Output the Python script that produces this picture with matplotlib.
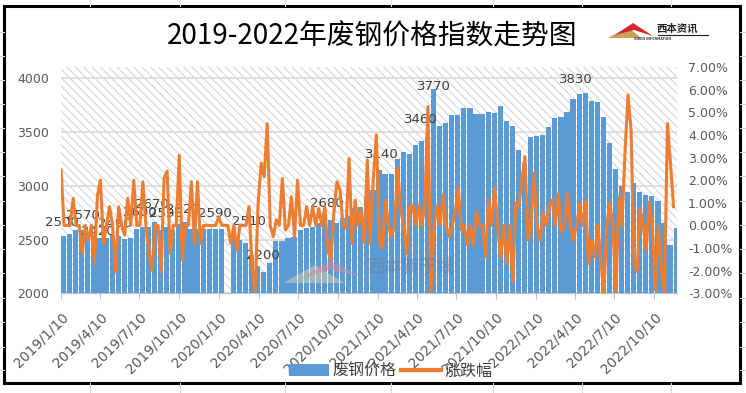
import numpy as np
import pandas as pd
import matplotlib
matplotlib.use('Agg')
from matplotlib import pyplot as plt
from matplotlib.patches import Patch, Polygon, Rectangle
from matplotlib.lines import Line2D
from matplotlib.ticker import FuncFormatter

# scrap steel price index, one bar every two weeks from 2019/1/10 (nan = holiday gap)
start_date = '2019-01-10'
price = [2530, 2555, 2590, 2590, 2540, 2540, 2510, 2510, 2545, 2530,
         2505, 2510, 2595, 2615, 2620, 2660, 2590, 2620, 2590, 2640,
         2660, 2595, 2595, 2595, 2595, 2595, 2595, np.nan, 2530, 2500,
         2470, 2360, 2250, 2200, 2280, 2485, 2490, 2515, 2520, 2590,
         2610, 2615, 2655, 2690, 2680, 2655, 2705, 2720, 2795, 2800,
         2900, 2960, 3150, 3110, 3110, 3250, 3310, 3295, 3375, 3420,
         3450, 3900, 3560, 3580, 3655, 3660, 3725, 3720, 3670, 3670,
         3690, 3680, 3745, 3600, 3560, 3330, 3200, 3450, 3465, 3470,
         3545, 3630, 3640, 3690, 3810, 3850, 3860, 3790, 3780, 3640,
         3400, 3155, 3000, 2940, 3030, 2940, 2910, 2905, 2860, 2650,
         2450, 2610]

# change in percent, one value per week from 2019/1/10
pct = [2.45, 0, 0, 0, 1.2, 0, 0, -1.24, 0, -0.65,
       0, -1.68, 1.3, 2.0, -0.8, 0, 0.83, 0, -2.05, 0.83,
       0, -0.43, 1.2, 0, 2.0, 0, 0, 1.93, 0, -1.17,
       -1.98, 0, 0, -2.05, 2.1, 2.4, -1.24, 0, 0, 3.1,
       -1.53, 0, 0, 1.93, -0.8, 1.93, -0.8, 0, 0, 0,
       0, 0, 0.38, 0, 0, 0, -0.8, 0, -1.1, 0,
       0, 0, 0.83, -1.83, -2.93, 0.97, 2.74, 2.15, 4.5, 0,
       -0.5, 0.24, 0, 2.08, -0.2, 0, 1.27, -0.5, 2.0, 0,
       0, 0.83, 0, 0.83, 0, 0.75, 0, 0.83, -1.1, -1.53,
       0.6, 1.93, 1.56, 0, -0.13, 2.96, -0.8, 1.12, 0, 0.68,
       -0.75, 2.89, -0.8, 2.08, 4.0, -0.65, -1.02, 1.12, 0, -0.5,
       0, 2.52, 0.68, 0, -1.24, 0.83, 0.9, 0, 0.9, 0,
       0.97, 5.25, -3.0, 0, 0.87, 0, 1.34, 0, -0.5, 0,
       0.6, 1.64, -0.2, 0, -0.87, 0, -0.87, 0.6, 0, 0,
       -1.39, 1.12, 0, 1.7, 0, -1.45, 0, -1.7, 0, -2.5,
       1.0, 0.85, 2.0, 3.04, -0.65, 0, 2.3, 0, -0.65, 0.6,
       0, 0.83, 1.12, 0, 1.4, -0.28, 0, 1.4, 0, -0.65,
       0, 0.9, 0, 1.05, -1.68, -0.65, -1.39, 0, -1.53, -3.0,
       0, 1.0, 0, -3.0, 1.27, 0, 3.26, 5.77, 4.2, -1.68,
       -2.05, 0.75, 0, -1.1, 1.05, 0, -2.86, 0, -1.98, -3.0,
       4.5, 2.74, 0.83]

label_dates = ['2019-01-11', '2019-03-02', '2019-04-05', '2019-05-15', '2019-07-11',
               '2019-08-08', '2019-09-09', '2019-10-19', '2019-12-31', '2020-03-19',
               '2020-04-20', '2020-09-15', '2021-01-20', '2021-04-20', '2021-05-20',
               '2022-04-13']
label_values = [2500, 2570, 2420, 2490, 2600, 2670, 2590, 2620, 2590, 2510,
                2200, 2680, 3140, 3460, 3770, 3830]

tick_labels = ['2019/1/10', '2019/4/10', '2019/7/10', '2019/10/10',
               '2020/1/10', '2020/4/10', '2020/7/10', '2020/10/10',
               '2021/1/10', '2021/4/10', '2021/7/10', '2021/10/10',
               '2022/1/10', '2022/4/10', '2022/7/10', '2022/10/10']

title = '2019-2022年废钢价格指数走势图'
series_names = ['废钢价格', '涨跌幅']

BLUE = '#5B9BD5'
ORANGE = '#ED7D31'
GREY = '#595959'
CJK = ['Noto Sans CJK SC', 'DejaVu Sans']

plt.rcParams['font.family'] = ['DejaVu Sans', 'Noto Sans CJK SC']
plt.rcParams['hatch.linewidth'] = 0.8

W, H = 746, 393


def fx(x):
    return x / W


def fy(y):
    return 1 - y / H


price_dates = pd.date_range(start_date, periods=len(price), freq='14D')
pct_dates = pd.date_range(start_date, periods=len(pct), freq='7D')
tick_dates = pd.to_datetime(tick_labels, format='%Y/%m/%d')
t0 = pd.Timestamp(start_date)

fig = plt.figure(figsize=(W / 100, H / 100), dpi=100)
ax = fig.add_axes([fx(60.8), fy(293.3), (677 - 60.8) / W, (293.3 - 67) / H])

# hatched plot area
ax.patch.set_facecolor('white')
ax.patch.set_hatch('\\\\\\\\')
ax.patch.set_edgecolor('#D6D6D6')
ax.patch.set_linewidth(0)

ax.bar(price_dates, price, width=12, align='edge', color=BLUE, linewidth=0, zorder=2)
ax.set_xlim(t0 - pd.Timedelta(days=0.5), t0 + pd.Timedelta(days=1422))
ax.set_ylim(2000, 4105)
ax.set_yticks([2000, 2500, 3000, 3500, 4000])
ax.yaxis.grid(True, color='#D9D9D9', lw=1.2)
ax.set_axisbelow(True)

for d, v in zip(label_dates, label_values):
    ax.annotate(str(v), (pd.Timestamp(d), v), xytext=(0, 12), textcoords='offset points',
                ha='center', va='center', fontsize=9.5, color='#404040', zorder=5)

ax.set_xticks(tick_dates)
ax.set_xticklabels(tick_labels, rotation=45, ha='right', va='top', rotation_mode='anchor',
                   fontsize=10, color=GREY)
ax.tick_params(axis='x', length=4, color='#BFBFBF', pad=8)
ax.tick_params(axis='y', length=0, pad=8.5, labelsize=9, labelcolor=GREY)
for s in ['top', 'left', 'right']:
    ax.spines[s].set_visible(False)
ax.spines['bottom'].set_color('#BFBFBF')

ax2 = ax.twinx()
ax2.plot(pct_dates, np.array(pct) / 100, color=ORANGE, lw=2.2, zorder=3)
ax2.set_ylim(-0.03, 0.07)
ax2.set_yticks(np.arange(-3, 8) / 100)
ax2.yaxis.set_major_formatter(FuncFormatter(lambda v, p: f'{round(v * 100, 2) + 0:.2f}%'))
ax2.tick_params(axis='y', length=0, pad=8, labelsize=9, labelcolor=GREY)
for s in ax2.spines.values():
    s.set_visible(False)

fig.text(fx(372), fy(37), title, family=CJK, fontsize=20, color='black', ha='center', va='center')

handles = [Patch(facecolor=BLUE, edgecolor='none'), Line2D([0], [0], color=ORANGE, lw=3)]
fig.legend(handles, series_names, loc='center', bbox_to_anchor=(fx(391), fy(371)), ncol=2,
           frameon=False, prop=dict(family=CJK, size=11.5), labelcolor='#404040',
           handlelength=2.5, handletextpad=0.2, columnspacing=0.3)

# logo, top right
fig.add_artist(Polygon([(fx(608), fy(38)), (fx(628), fy(27)), (fx(641), fy(38))],
                       transform=fig.transFigure, color='#C9A15A', lw=0))
fig.add_artist(Polygon([(fx(615), fy(35)), (fx(633), fy(23)), (fx(653), fy(36)), (fx(634), fy(30))],
                       transform=fig.transFigure, color='#D7262B', lw=0))
fig.text(fx(677), fy(29), '西本资讯', family=CJK, fontsize=7.5, weight='bold', color='#222222',
         ha='center', va='center')
fig.add_artist(Line2D([fx(658), fx(708)], [fy(35), fy(35)], transform=fig.transFigure,
                      color='#222222', lw=0.8))
fig.text(fx(652), fy(39.5), 'XIBEN INFORMATION', fontsize=2.3, weight='bold', color='#444444',
         ha='center', va='center')

# faint watermark
fig.add_artist(Polygon([(fx(283), fy(283)), (fx(315), fy(265)), (fx(345), fy(283))],
                       transform=fig.transFigure, color='#E8D9A8', alpha=0.45, lw=0))
fig.add_artist(Polygon([(fx(300), fy(279)), (fx(330), fy(261)), (fx(360), fy(276)), (fx(330), fy(270))],
                       transform=fig.transFigure, color='#D98A9A', alpha=0.55, lw=0))
fig.text(fx(411), fy(267), '西本新干线', family=CJK, fontsize=12.5, weight='bold', color='#6A7C96',
         alpha=0.45, ha='center', va='center', style='italic')

# chart border and sheet cell lines around it
for x in [90, 180, 285, 391, 493, 582, 671]:
    fig.add_artist(Line2D([fx(x), fx(x)], [fy(0), fy(6)], transform=fig.transFigure, color='#D9D9D9', lw=0.8))
    fig.add_artist(Line2D([fx(x), fx(x)], [fy(383), fy(393)], transform=fig.transFigure, color='#D9D9D9', lw=0.8))
for y in [32, 56, 80, 104, 128, 152, 176, 201, 225, 249, 273, 298, 322, 347, 370]:
    fig.add_artist(Line2D([fx(0), fx(4)], [fy(y), fy(y)], transform=fig.transFigure, color='#D9D9D9', lw=0.8))
    fig.add_artist(Line2D([fx(740), fx(746)], [fy(y), fy(y)], transform=fig.transFigure, color='#D9D9D9', lw=0.8))
fig.add_artist(Rectangle((fx(4), fy(383)), (740 - 4) / W, (383 - 6) / H, transform=fig.transFigure,
                         fill=False, edgecolor='black', lw=2.2))

fig.savefig('out.png', dpi=100)
